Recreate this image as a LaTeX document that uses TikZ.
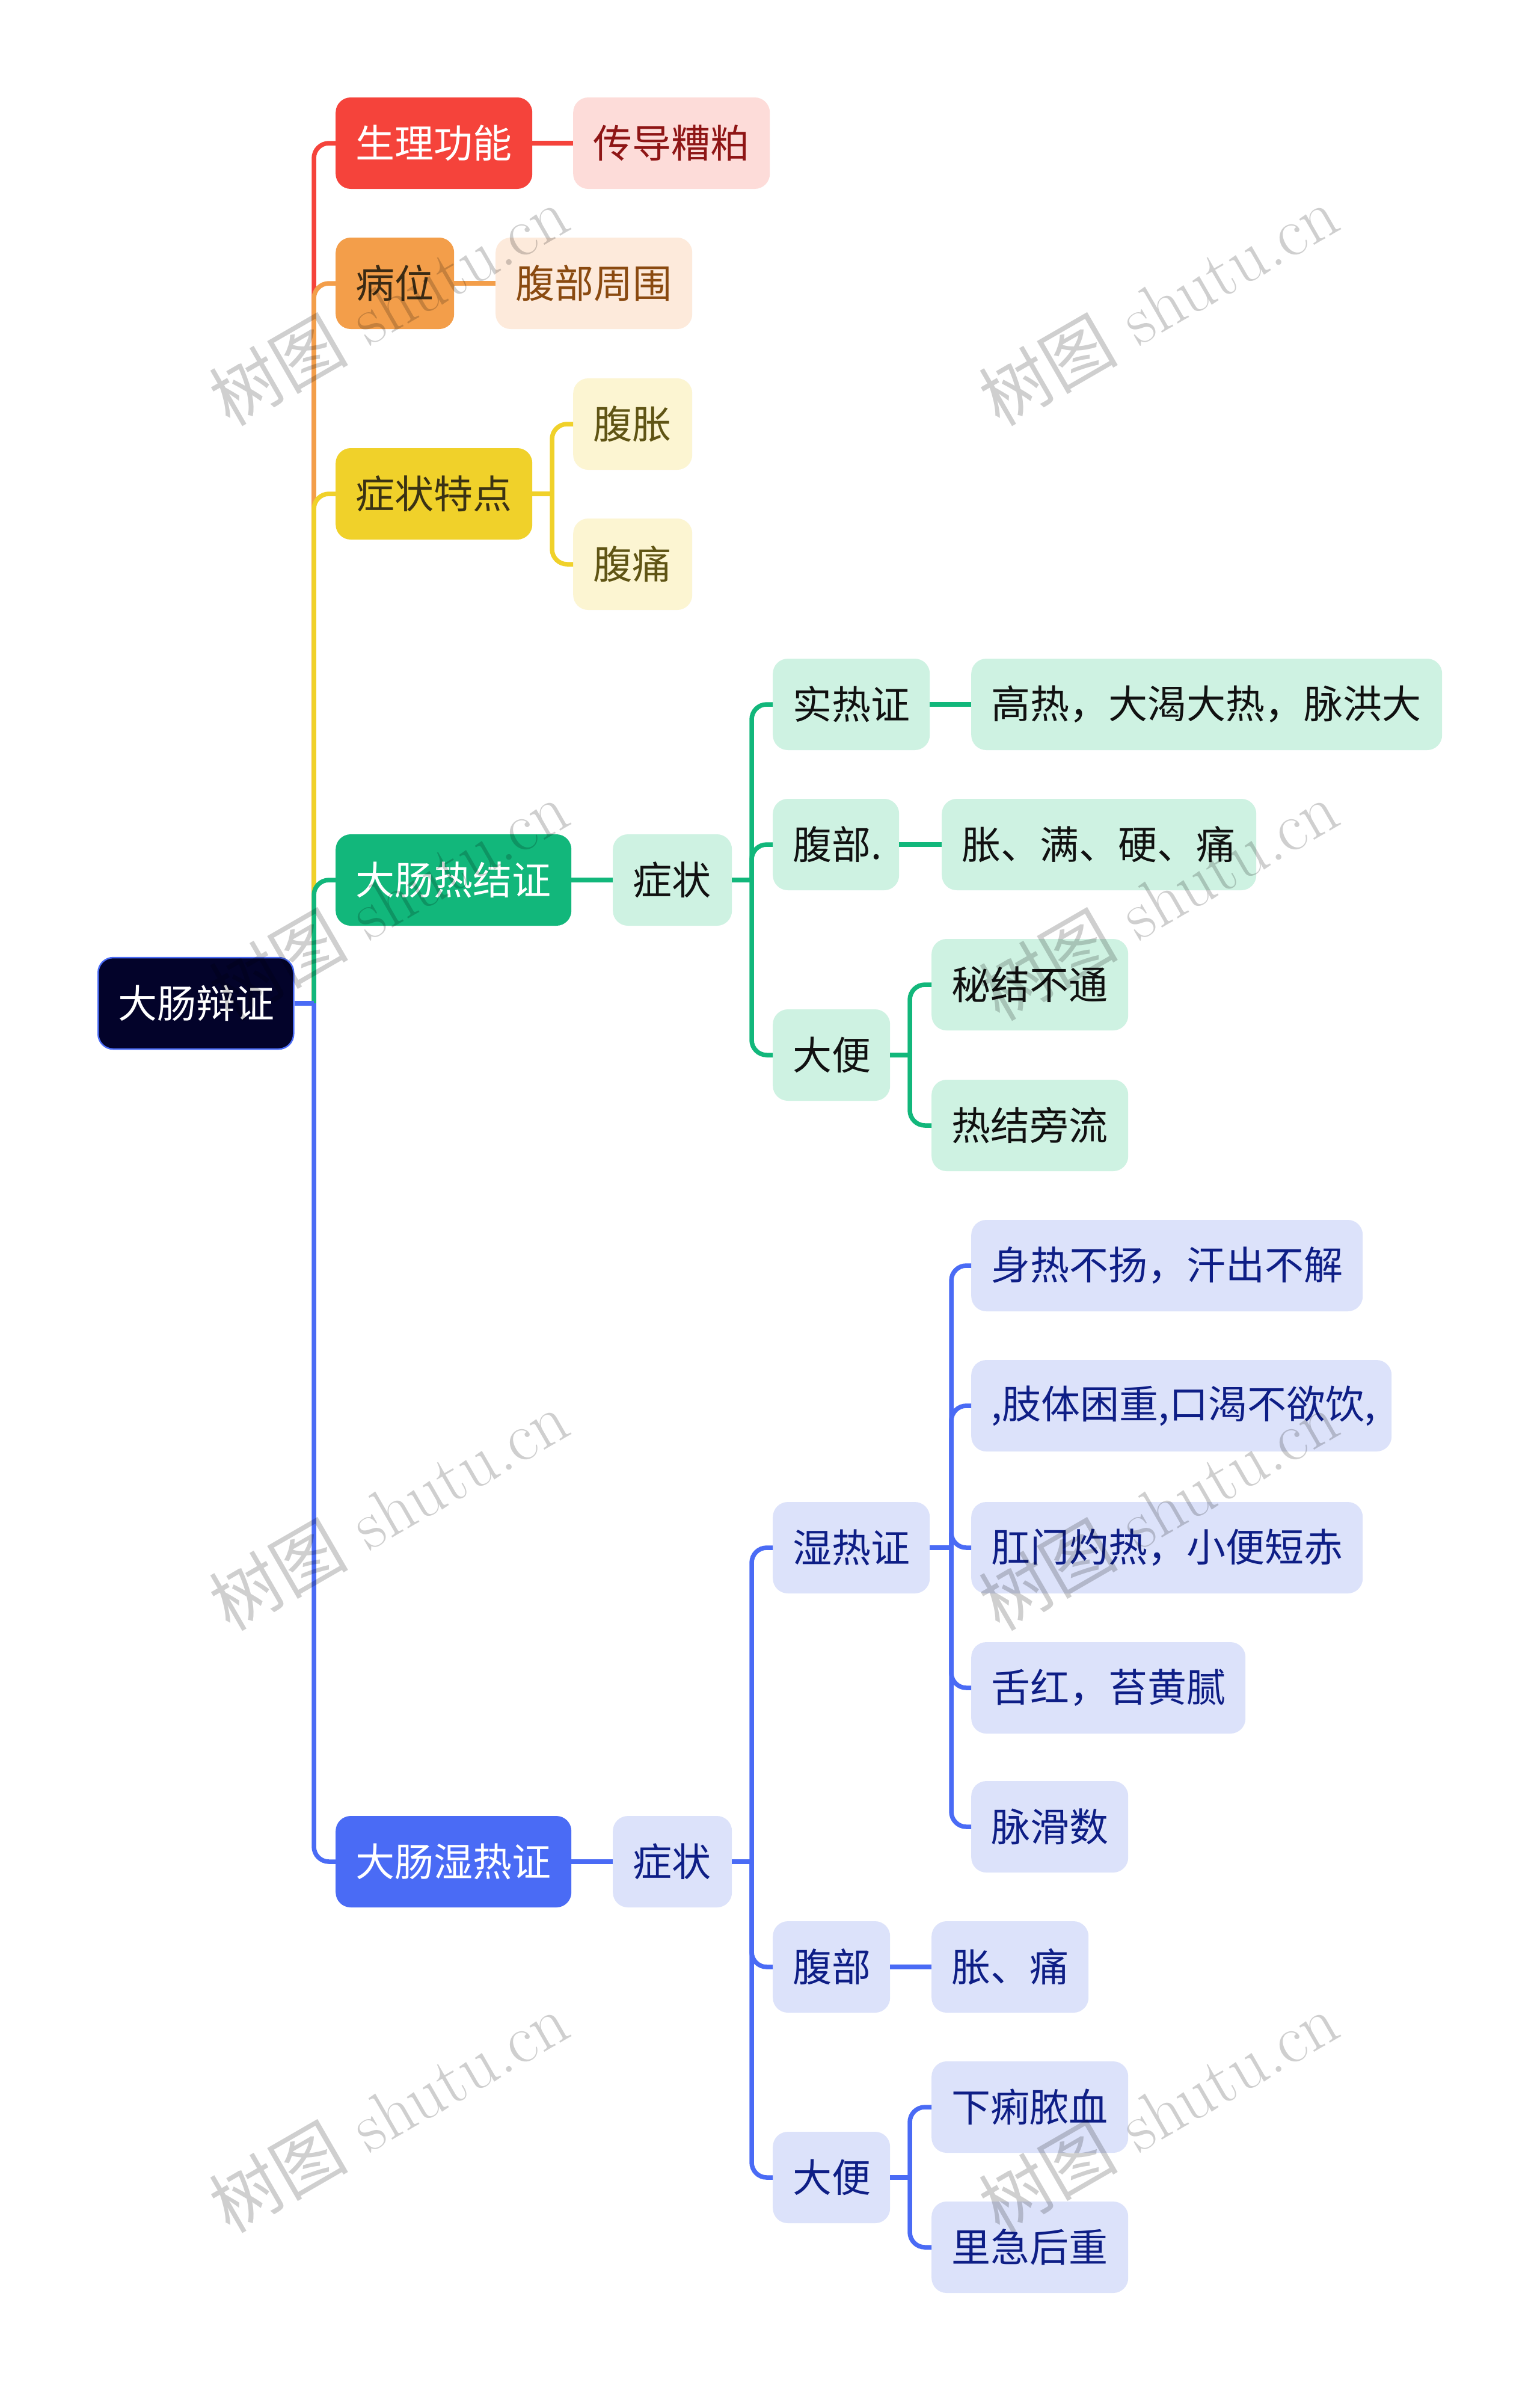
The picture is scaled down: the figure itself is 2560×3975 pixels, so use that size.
\documentclass[tikz,border=0pt]{standalone}
\usepackage{fontspec}
\newfontfamily\cjk{Noto Sans CJK SC}
\definecolor{cRed}{HTML}{F5433B}
\definecolor{lRed}{HTML}{FDDCD9}
\definecolor{tRed}{HTML}{8E1515}
\definecolor{cOrange}{HTML}{F39E4A}
\definecolor{lOrange}{HTML}{FDEADB}
\definecolor{tOrange}{HTML}{8A4A10}
\definecolor{tDarkA}{HTML}{3A2A14}
\definecolor{cYellow}{HTML}{F0D12A}
\definecolor{lYellow}{HTML}{FCF5D2}
\definecolor{tYellow}{HTML}{5F5414}
\definecolor{tDarkB}{HTML}{3A3214}
\definecolor{cGreen}{HTML}{12B77B}
\definecolor{lGreen}{HTML}{CEF2E2}
\definecolor{tGreen}{HTML}{111111}
\definecolor{cBlue}{HTML}{4A6BF5}
\definecolor{lBlue}{HTML}{DCE2FA}
\definecolor{tBlue}{HTML}{0E1E86}
\definecolor{cRoot}{HTML}{03032A}
\tikzset{
  box/.style={rounded corners=25pt, minimum height=152pt, inner xsep=33pt, inner ysep=0pt,
    anchor=west, align=left, font=\cjk\fontsize{65pt}{78pt}\selectfont},
  conn/.style={line width=7.5pt},
  rc/.style={rounded corners=25pt},
  wm/.style={font=\fontsize{116pt}{128pt}\selectfont, text=black, text opacity=0.19, rotate=30}
}
\begin{document}
\begin{tikzpicture}[x=1pt,y=-1pt]
\fill[white] (0,0) rectangle (2560,3975);
\useasboundingbox (0,0) rectangle (2560,3975);

% nodes
\node[box, fill=cRoot, draw=cBlue, line width=2.5pt, text=white, text width=259pt] (r) at (162,1668) {大肠辩证};

\node[box, fill=cRed, text=white, text width=261pt] (a) at (558,238) {生理功能};
\node[box, fill=lRed, text=tRed, text width=261pt] (a1) at (953,238) {传导糟粕};

\node[box, fill=cOrange, text=tDarkA, text width=131pt] (b) at (558,471) {病位};
\node[box, fill=lOrange, text=tOrange, text width=261pt] (b1) at (824,471) {腹部周围};

\node[box, fill=cYellow, text=tDarkB, text width=261pt] (c) at (558,821) {症状特点};
\node[box, fill=lYellow, text=tYellow, text width=132pt] (c1) at (953,705) {腹胀};
\node[box, fill=lYellow, text=tYellow, text width=132pt] (c2) at (953,938) {腹痛};

\node[box, fill=cGreen, text=white, text width=326pt] (d) at (558,1463) {大肠热结证};
\node[box, fill=lGreen, text=tGreen, text width=132pt] (d1) at (1019,1463) {症状};
\node[box, fill=lGreen, text=tGreen, text width=195pt] (d11) at (1285,1171) {实热证};
\node[box, fill=lGreen, text=tGreen, text width=717pt] (d111) at (1615,1171) {高热，大渴大热，脉洪大};
\node[box, fill=lGreen, text=tGreen, text width=144pt] (d12) at (1285,1404) {腹部.};
\node[box, fill=lGreen, text=tGreen, text width=457pt] (d121) at (1566,1404) {胀、满、硬、痛};
\node[box, fill=lGreen, text=tGreen, text width=129pt] (d13) at (1285,1754) {大便};
\node[box, fill=lGreen, text=tGreen, text width=261pt] (d131) at (1549,1637) {秘结不通};
\node[box, fill=lGreen, text=tGreen, text width=261pt] (d132) at (1549,1871) {热结旁流};

\node[box, fill=cBlue, text=white, text width=326pt] (e) at (558,3095) {大肠湿热证};
\node[box, fill=lBlue, text=tBlue, text width=132pt] (e1) at (1019,3095) {症状};
\node[box, fill=lBlue, text=tBlue, text width=195pt] (e11) at (1285,2573) {湿热证};
\node[box, fill=lBlue, text=tBlue, text width=585pt] (e111) at (1615,2104) {身热不扬，汗出不解};
\node[box, fill=lBlue, text=tBlue, text width=633pt] (e112) at (1615,2337) {,肢体困重,口渴不欲饮,};
\node[box, fill=lBlue, text=tBlue, text width=585pt] (e113) at (1615,2573) {肛门灼热，小便短赤};
\node[box, fill=lBlue, text=tBlue, text width=390pt] (e114) at (1615,2806) {舌红，苔黄腻};
\node[box, fill=lBlue, text=tBlue, text width=195pt] (e115) at (1615,3037) {脉滑数};
\node[box, fill=lBlue, text=tBlue, text width=129pt] (e12) at (1285,3270) {腹部};
\node[box, fill=lBlue, text=tBlue, text width=195pt] (e121) at (1549,3270) {胀、痛};
\node[box, fill=lBlue, text=tBlue, text width=129pt] (e13) at (1285,3620) {大便};
\node[box, fill=lBlue, text=tBlue, text width=261pt] (e131) at (1549,3503) {下痢脓血};
\node[box, fill=lBlue, text=tBlue, text width=261pt] (e132) at (1549,3736) {里急后重};

% junction points
\coordinate (j0) at (522,1668);
\coordinate (jc) at (918,821);
\coordinate (jd1) at (1250,1463);
\coordinate (jd13) at (1513,1754);
\coordinate (je1) at (1250,3095);
\coordinate (je11) at (1582,2573);
\coordinate (je13) at (1513,3620);

% root connectors
\draw[conn, rc, cRed] (j0) |- (a.west);
\draw[conn, rc, cOrange] (j0) |- (b.west);
\draw[conn, rc, cYellow] (j0) |- (c.west);
\draw[conn, rc, cGreen] (j0) |- (d.west);
\draw[conn, rc, cBlue] (j0) |- (e.west);
\draw[conn, cBlue] (r.east) -- (j0);

% red / orange
\draw[conn, cRed] (a.east) -- (a1.west);
\draw[conn, cOrange] (b.east) -- (b1.west);

% yellow
\draw[conn, cYellow] (c.east) -- (jc);
\draw[conn, rc, cYellow] (jc) |- (c1.west);
\draw[conn, rc, cYellow] (jc) |- (c2.west);

% green
\draw[conn, cGreen] (d.east) -- (d1.west);
\draw[conn, cGreen] (d1.east) -- (jd1);
\draw[conn, rc, cGreen] (jd1) |- (d11.west);
\draw[conn, rc, cGreen] (jd1) |- (d12.west);
\draw[conn, rc, cGreen] (jd1) |- (d13.west);
\draw[conn, cGreen] (d11.east) -- (d111.west);
\draw[conn, cGreen] (d12.east) -- (d121.west);
\draw[conn, cGreen] (d13.east) -- (jd13);
\draw[conn, rc, cGreen] (jd13) |- (d131.west);
\draw[conn, rc, cGreen] (jd13) |- (d132.west);

% blue
\draw[conn, cBlue] (e.east) -- (e1.west);
\draw[conn, cBlue] (e1.east) -- (je1);
\draw[conn, rc, cBlue] (je1) |- (e11.west);
\draw[conn, rc, cBlue] (je1) |- (e12.west);
\draw[conn, rc, cBlue] (je1) |- (e13.west);
\draw[conn, cBlue] (e11.east) -- (je11);
\draw[conn, rc, cBlue] (je11) |- (e111.west);
\draw[conn, rc, cBlue] (je11) |- (e112.west);
\draw[conn, rc, cBlue] (je11) |- (e113.west);
\draw[conn, rc, cBlue] (je11) |- (e114.west);
\draw[conn, rc, cBlue] (je11) |- (e115.west);
\draw[conn, cBlue] (e12.east) -- (e121.west);
\draw[conn, cBlue] (e13.east) -- (je13);
\draw[conn, rc, cBlue] (je13) |- (e131.west);
\draw[conn, rc, cBlue] (je13) |- (e132.west);

% watermarks
\node[wm] (w1) at (646,507) {{\cjk 树图} shutu.cn};
\node[wm] (w2) at (1926,507) {{\cjk 树图} shutu.cn};
\node[wm] (w3) at (646,1496) {{\cjk 树图} shutu.cn};
\node[wm] (w4) at (1926,1496) {{\cjk 树图} shutu.cn};
\node[wm] (w5) at (646,2510) {{\cjk 树图} shutu.cn};
\node[wm] (w6) at (1926,2510) {{\cjk 树图} shutu.cn};
\node[wm] (w7) at (646,3511) {{\cjk 树图} shutu.cn};
\node[wm] (w8) at (1926,3511) {{\cjk 树图} shutu.cn};
\end{tikzpicture}
\end{document}
